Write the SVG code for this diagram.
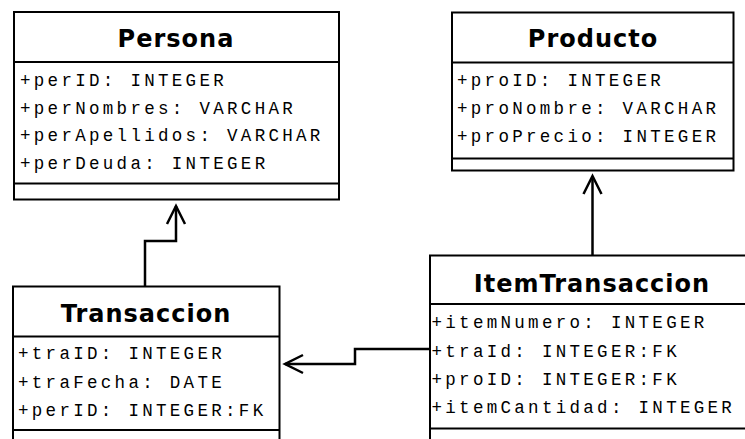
<svg xmlns="http://www.w3.org/2000/svg" width="745" height="439" viewBox="0 0 745 439">
<style>
.box{fill:#fff;stroke:#000;stroke-width:2}
.div{stroke:#000;stroke-width:2}
.title{font-family:"DejaVu Sans",Verdana,sans-serif;font-weight:bold;font-size:24px;letter-spacing:1px;text-anchor:middle;fill:#000}
.attr{font-family:"Liberation Mono","DejaVu Sans Mono",monospace;font-size:17.5px;letter-spacing:3.3px;fill:#000}
.conn{fill:none;stroke:#000;stroke-width:2.5}
</style>
<defs>
<marker id="open" markerUnits="userSpaceOnUse" markerWidth="24" markerHeight="24" viewBox="-20 -12 24 24" refX="0" refY="0" orient="auto">
<path d="M-18,-9 L0,0 L-18,9" fill="none" stroke="#000" stroke-width="2.5"/>
</marker>
</defs>
<rect width="745" height="439" fill="#fff"/>
<g id="connectors">
<path class="conn" d="M145,286 V241 H176 V206" marker-end="url(#open)"/>
<path class="conn" d="M592.5,255 V176" marker-end="url(#open)"/>
<path class="conn" d="M430,349 H355 V364 H285" marker-end="url(#open)"/>
</g>
<g id="Persona">
<rect class="box" x="14" y="12" width="325" height="187.5"/>
<line class="div" x1="14" y1="62" x2="339" y2="62"/>
<line class="div" x1="14" y1="183.5" x2="339" y2="183.5"/>
<text class="title" x="176" y="47">Persona</text>
<text class="attr" x="20" y="86">+perID: INTEGER</text>
<text class="attr" x="20" y="113.5">+perNombres: VARCHAR</text>
<text class="attr" x="20" y="141">+perApellidos: VARCHAR</text>
<text class="attr" x="20" y="169">+perDeuda: INTEGER</text>
</g>
<g id="Producto">
<rect class="box" x="452" y="12.5" width="281.5" height="158"/>
<line class="div" x1="452" y1="62.5" x2="733.5" y2="62.5"/>
<line class="div" x1="452" y1="158.5" x2="733.5" y2="158.5"/>
<text class="title" x="593" y="47">Producto</text>
<text class="attr" x="457" y="85.5">+proID: INTEGER</text>
<text class="attr" x="457" y="113.5">+proNombre: VARCHAR</text>
<text class="attr" x="457" y="141.5">+proPrecio: INTEGER</text>
</g>
<g id="Transaccion">
<rect class="box" x="13" y="286.5" width="266.5" height="180"/>
<line class="div" x1="13" y1="336.5" x2="279.5" y2="336.5"/>
<line class="div" x1="13" y1="430" x2="279.5" y2="430"/>
<text class="title" x="146" y="322">Transaccion</text>
<text class="attr" x="18" y="359">+traID: INTEGER</text>
<text class="attr" x="18" y="388">+traFecha: DATE</text>
<text class="attr" x="18" y="416">+perID: INTEGER:FK</text>
</g>
<g id="ItemTransaccion">
<rect class="box" x="430" y="255.5" width="340" height="220"/>
<line class="div" x1="430" y1="304" x2="770" y2="304"/>
<line class="div" x1="430" y1="428.5" x2="770" y2="428.5"/>
<text class="title" x="592" y="292">ItemTransaccion</text>
<text class="attr" x="431.5" y="328">+itemNumero: INTEGER</text>
<text class="attr" x="431.5" y="357">+traId: INTEGER:FK</text>
<text class="attr" x="431.5" y="385">+proID: INTEGER:FK</text>
<text class="attr" x="431.5" y="413">+itemCantidad: INTEGER</text>
</g>
</svg>
